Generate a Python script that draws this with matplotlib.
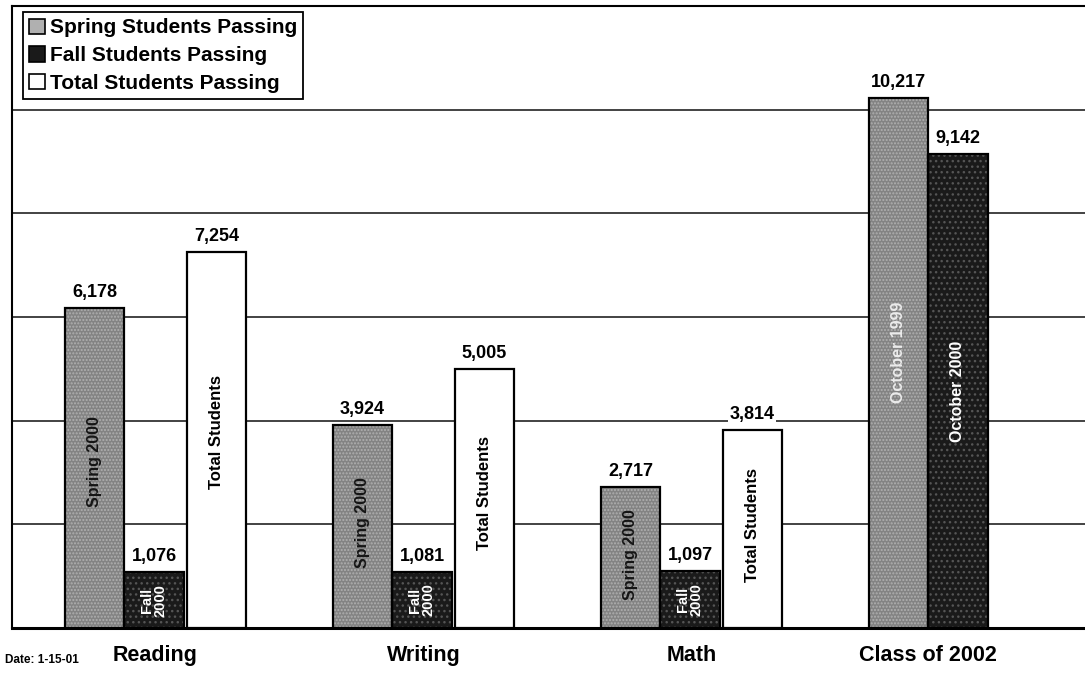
import matplotlib
matplotlib.use("Agg")
import matplotlib.pyplot as plt
import numpy as np
from matplotlib.patches import Patch

plt.rcParams['font.family'] = ['Liberation Sans', 'DejaVu Sans']
plt.rcParams['font.weight'] = 'bold'
plt.rcParams['hatch.linewidth'] = 1.0

# Students passing by subject test
categories = ['Reading', 'Writing', 'Math', 'Class of 2002']
spring_passing = [6178, 3924, 2717, 10217]
fall_passing = [1076, 1081, 1097, 9142]
total_passing = [7254, 5005, 3814]  # no total bar for the class of 2002

spring_tags = ['Spring 2000', 'Spring 2000', 'Spring 2000', 'October 1999']
fall_tags = ['Fall\n2000', 'Fall\n2000', 'Fall\n2000', 'October 2000']
total_tag = 'Total Students'

SPRING_FACE = '#838383'
SPRING_SPECK = '#b0b0b0'
FALL_FACE = '#1a1a1a'
FALL_SPECK = '#555555'

fig = plt.figure(figsize=(10.85, 6.75), dpi=100)
ax = fig.add_axes([12 / 1085, 47 / 675, 1 - 12 / 1085, 622 / 675])

x = np.arange(len(categories)) * 1.0
w = 0.222
x_spring = x - w
x_fall = x
x_total = x[:len(total_passing)] + w + 0.011


def textured_bar(xs, heights, face, speck, hatch):
    # face, speckle overlay, then a crisp outline on top
    ax.bar(xs, heights, width=w, color=face, linewidth=0, zorder=3)
    ax.bar(xs, heights, width=w, fill=False, hatch=hatch, edgecolor=speck, linewidth=0, zorder=3.2)
    ax.bar(xs, heights, width=w, fill=False, edgecolor='black', linewidth=1.6, zorder=3.4)


textured_bar(x_spring, spring_passing, SPRING_FACE, SPRING_SPECK, '.....')
textured_bar(x_fall, fall_passing, FALL_FACE, FALL_SPECK, '...')
ax.bar(x_total, total_passing, width=w, color='white', edgecolor='black', linewidth=1.6, zorder=3)


def value_labels(xs, heights):
    for xi, h in zip(xs, heights):
        ax.annotate(f'{h:,}', (xi, h), xytext=(0, 5), textcoords='offset points',
                    ha='center', va='bottom', fontsize=13, zorder=5,
                    bbox=dict(facecolor='white', edgecolor='none', pad=1))


value_labels(x_spring, spring_passing)
value_labels(x_fall, fall_passing)
value_labels(x_total, total_passing)

# rotated tags inside the bars
for xi, h, tag in zip(x_spring, spring_passing, spring_tags):
    color = '#ececec' if tag.startswith('October') else '#151515'
    ax.text(xi, h * 0.52, tag, rotation=90, ha='center', va='center',
            color=color, fontsize=11.5, zorder=6)
for xi, h, tag in zip(x_fall, fall_passing, fall_tags):
    size = 11.5 if tag.startswith('October') else 10.5
    ax.text(xi, h * 0.5, tag, rotation=90, ha='center', va='center',
            color='white', fontsize=size, linespacing=0.95, zorder=6)
for xi, h in zip(x_total, total_passing):
    ax.text(xi, h * 0.52, total_tag, rotation=90, ha='center', va='center',
            color='black', fontsize=12, zorder=6)

# category ticks centred under each group
centers = [(s - w / 2 + (t + w / 2)) / 2 for s, t in zip(x_spring, x_total)]
centers.append((x_spring[-1] + x_fall[-1]) / 2)
ax.set_xticks(centers)
ax.set_xticklabels(categories, fontsize=15.5)
ax.tick_params(axis='x', length=0, pad=12)

ax.set_ylim(0, 12000)
ax.set_xlim(-0.530, 3.474)
ax.set_yticks(np.arange(2000, 12000, 2000))
ax.tick_params(axis='y', length=0, labelleft=False)
ax.yaxis.grid(True, color='#222222', linewidth=1.2)
ax.set_axisbelow(True)

ax.spines['right'].set_visible(False)
ax.spines['left'].set_linewidth(1.5)
ax.spines['top'].set_linewidth(1.5)
ax.spines['bottom'].set_linewidth(2.2)

handles = [
    Patch(facecolor='#b0b0b0', edgecolor='black', linewidth=1.2),
    Patch(facecolor=FALL_FACE, edgecolor='black', linewidth=1.2),
    Patch(facecolor='white', edgecolor='black', linewidth=1.2),
]
leg = ax.legend(handles, ['Spring Students Passing', 'Fall Students Passing', 'Total Students Passing'],
                loc='upper left', bbox_to_anchor=(0.01, 0.99), borderaxespad=0,
                fontsize=15, fancybox=False, framealpha=1, edgecolor='black',
                handlelength=0.75, handleheight=0.75, handletextpad=0.25,
                labelspacing=0.42, borderpad=0.3)
leg.get_frame().set_linewidth(1.3)
leg.set_zorder(10)

fig.text(5 / 1085, 15 / 675, 'Date: 1-15-01', fontsize=8.5, va='center')

fig.savefig('out.png', dpi=100)
